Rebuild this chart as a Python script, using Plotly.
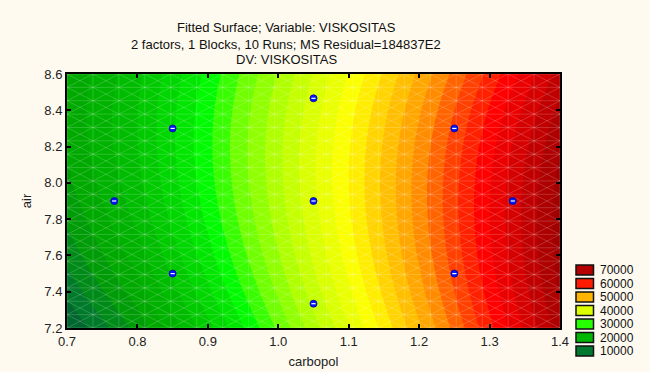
import numpy as np
import plotly.graph_objects as go

# ---------------- data ----------------
carbopol_grid = [0.7, 0.8, 0.9, 1.0, 1.1, 1.2, 1.3, 1.4]
air_grid = [7.2, 7.4, 7.6, 7.8, 8.0, 8.2, 8.4, 8.6]
viskositas_grid = [
    [6950, 13700, 22350, 31400, 40850, 50700, 60460, 70110],
    [9560, 16090, 24530, 33360, 42600, 52230, 61770, 71220],
    [11700, 18010, 26230, 34850, 43870, 53290, 62620, 71840],
    [13360, 19460, 27460, 35860, 44670, 53870, 62980, 71990],
    [14550, 20430, 28220, 36400, 44990, 53980, 62870, 71670],
    [15260, 20930, 28500, 36470, 44840, 53620, 62290, 70870],
    [15500, 20950, 28300, 36060, 44220, 52770, 61230, 69600],
    [15260, 20500, 27630, 35170, 43110, 51460, 59700, 67850],
]
run_carbopol = [0.767, 0.85, 0.85, 1.05, 1.05, 1.05, 1.25, 1.25, 1.333]
run_air = [7.9, 8.3, 7.5, 8.466, 7.9, 7.334, 8.3, 7.5, 7.9]

legend_levels = [70000, 60000, 50000, 40000, 30000, 20000, 10000]
legend_colors = ["#B40000", "#FF1A00", "#FFB400", "#DCFF00", "#26FF00", "#00B800", "#00782E"]

x_ticks = [0.7, 0.8, 0.9, 1.0, 1.1, 1.2, 1.3, 1.4]
y_ticks = [7.2, 7.4, 7.6, 7.8, 8.0, 8.2, 8.4, 8.6]

title_lines = ["Fitted Surface; Variable: VISKOSITAS",
               "2 factors, 1 Blocks, 10 Runs; MS Residual=184837E2",
               "DV: VISKOSITAS"]

# colour ramp of the surface (value, colour)
ramp = [
    (0, "#004A2E"), (7000, "#005E30"), (10000, "#007A2A"), (15000, "#00A400"),
    (20000, "#00BC00"), (25000, "#00DC00"), (28000, "#00FA00"), (32000, "#70FF00"),
    (36000, "#B0FF00"), (40000, "#DAFF00"), (44500, "#FFFF00"), (48000, "#FFD400"),
    (51000, "#FFB400"), (54000, "#FF8C00"), (57000, "#FF5000"), (60000, "#FF2000"),
    (62000, "#FF0000"), (65000, "#E00000"), (68000, "#C00000"), (71000, "#A40000"),
    (80000, "#780000"),
]
ZMAX = 80000
colorscale = [[v / ZMAX, c] for v, c in ramp]

FONT = "Liberation Sans, Arial, sans-serif"
W, H = 650, 372
L, R, T, B = 67, 90, 74, 44
PW, PH = W - L - R, H - T - B


def px_x(px):
    return (px - L) / PW


def px_y(py):
    return (H - B - py) / PH


fig = go.Figure()

fig.add_trace(go.Contour(
    x=carbopol_grid, y=air_grid, z=viskositas_grid,
    colorscale=colorscale, zmin=0, zmax=ZMAX, showscale=False,
    contours=dict(start=1000, end=79000, size=2000, coloring="fill"),
    line=dict(width=0, smoothing=1.0),
    hoverinfo="skip",
))

# faint triangular rendering mesh of the surface
nx, ny = 19, 19
x0, x1 = x_ticks[0], x_ticks[-1]
y0, y1 = y_ticks[0], y_ticks[-1]
gx = np.linspace(x0, x1, nx + 1)
gy = np.linspace(y0, y1, ny + 1)
mx, my = [], []
for yy in gy:
    mx += [x0, x1, None]; my += [yy, yy, None]
for xx in gx:
    mx += [xx, xx, None]; my += [y0, y1, None]
for k in range(-ny, nx + 1):
    pts = [(i, i - k) for i in range(nx + 1) if 0 <= i - k <= ny]
    if len(pts) > 1:
        mx += [gx[pts[0][0]], gx[pts[-1][0]], None]
        my += [gy[pts[0][1]], gy[pts[-1][1]], None]
for k in range(0, nx + ny + 1):
    pts = [(i, k - i) for i in range(nx + 1) if 0 <= k - i <= ny]
    if len(pts) > 1:
        mx += [gx[pts[0][0]], gx[pts[-1][0]], None]
        my += [gy[pts[0][1]], gy[pts[-1][1]], None]
fig.add_trace(go.Scatter(x=mx, y=my, mode="lines",
                         line=dict(color="rgba(255,255,255,0.18)", width=1),
                         hoverinfo="skip", showlegend=False))

# design points
fig.add_trace(go.Scatter(x=run_carbopol, y=run_air, mode="markers",
                         marker=dict(size=7, color="#0018FF",
                                     line=dict(color="#00009A", width=0.8)),
                         showlegend=False, hoverinfo="skip"))
fig.add_trace(go.Scatter(x=run_carbopol, y=run_air, mode="markers",
                         marker=dict(size=3, symbol="line-ew",
                                     line=dict(color="white", width=1.2)),
                         showlegend=False, hoverinfo="skip"))

annotations = []
shapes = []
for i, t in enumerate(title_lines):
    annotations.append(dict(text=t, x=px_x(286), y=px_y([27, 44.5, 59.5][i]),
                            xref="paper", yref="paper", xanchor="center",
                            yanchor="middle", showarrow=False, borderpad=0,
                            font=dict(family=FONT, size=13, color="#111")))

# legend
for i, (lv, col) in enumerate(zip(legend_levels, legend_colors)):
    cy = 270 + i * 13.5
    shapes.append(dict(type="rect", xref="paper", yref="paper",
                       x0=px_x(576), x1=px_x(593.5),
                       y0=px_y(cy + 5), y1=px_y(cy - 5),
                       fillcolor=col, line=dict(color="#111", width=1.5)))
    annotations.append(dict(text=str(lv), x=px_x(599), y=px_y(cy),
                            xref="paper", yref="paper", xanchor="left",
                            yanchor="middle", showarrow=False, borderpad=0,
                            font=dict(family=FONT, size=12, color="#111")))

axis_common = dict(showline=True, linecolor="#000", linewidth=2, mirror="ticks",
                   ticks="inside", ticklen=4, tickwidth=1.5, tickcolor="#000",
                   showgrid=False, zeroline=False, automargin=False,
                   tickfont=dict(family=FONT, size=13, color="#222"))

fig.update_layout(
    width=W, height=H,
    margin=dict(l=L, r=R, t=T, b=B, autoexpand=False),
    paper_bgcolor="#FEFAF0", plot_bgcolor="#FEFAF0",
    showlegend=False,
    xaxis=dict(range=[x0, x1], tickvals=x_ticks, tickformat=".1f",
               title=dict(text="carbopol", standoff=9,
                          font=dict(family=FONT, size=13, color="#222")),
               **axis_common),
    yaxis=dict(range=[y0, y1], tickvals=y_ticks, tickformat=".1f",
               title=dict(text="air", standoff=10,
                          font=dict(family=FONT, size=13, color="#222")),
               **axis_common),
    annotations=annotations, shapes=shapes,
)

fig.write_html("out.html")
